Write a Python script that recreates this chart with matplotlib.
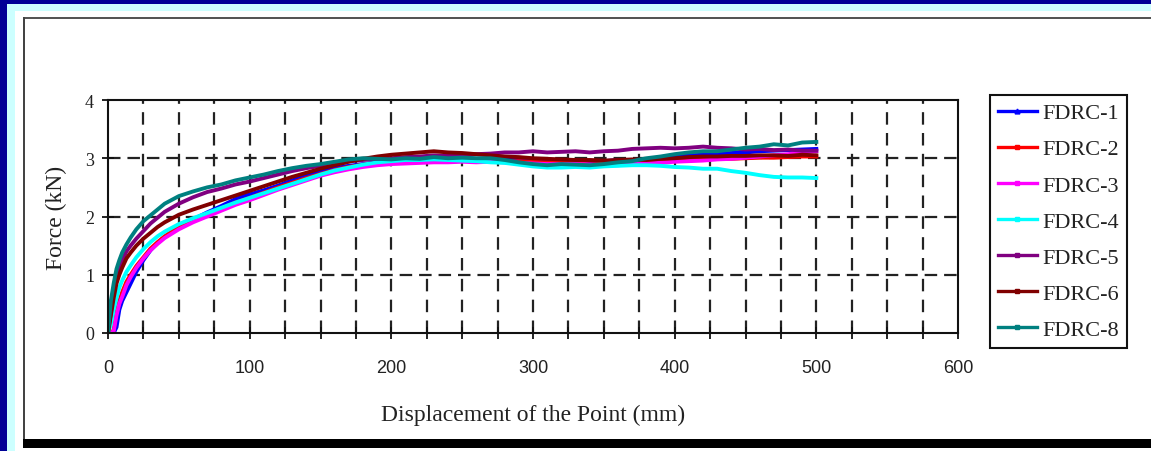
import numpy as np
import matplotlib
matplotlib.use("Agg")
import matplotlib.pyplot as plt
from matplotlib.patches import Rectangle
from matplotlib.lines import Line2D

# displacement (mm) shared by all specimens
disp = [0, 2, 4, 6, 8, 10, 13, 16, 20, 25, 30, 35, 40,
        50, 60, 70, 80, 90, 100, 110, 120, 130, 140, 150, 160, 170, 180, 190,
        200, 210, 220, 230, 240, 250, 260, 270, 280, 290, 300, 310, 320, 330,
        340, 350, 360, 370, 380, 390, 400, 410, 420, 430, 440, 450, 460, 470,
        480, 490, 500]

fdrc1 = [0, 0.0, 0.0, 0.1, 0.4, 0.55, 0.7, 0.85, 1.05, 1.25, 1.42, 1.55, 1.65,
         1.82, 1.95, 2.07, 2.18, 2.3, 2.38, 2.45, 2.53, 2.62, 2.7, 2.77, 2.83, 2.87, 2.9, 2.93,
         2.95, 2.97, 2.96, 2.99, 3.0, 3.01, 2.99, 3.0, 2.99, 2.98, 2.97, 2.98, 2.96, 2.97,
         2.95, 2.95, 2.97, 2.96, 2.98, 3.01, 3.02, 3.05, 3.06, 3.08, 3.09, 3.1, 3.12, 3.13,
         3.14, 3.15, 3.16]
fdrc2 = [0, 0.0, 0.05, 0.35, 0.55, 0.7, 0.88, 1.0, 1.15, 1.3, 1.45, 1.56, 1.66,
         1.82, 1.94, 2.04, 2.14, 2.24, 2.32, 2.41, 2.5, 2.58, 2.66, 2.73, 2.8, 2.85, 2.89, 2.92,
         2.94, 2.95, 2.96, 2.96, 2.97, 2.96, 2.95, 2.96, 2.94, 2.95, 2.94, 2.93, 2.94, 2.95,
         2.96, 2.95, 2.96, 2.95, 2.96, 2.97, 2.96, 2.97, 2.98, 2.99, 2.99, 3.0, 3.01, 3.01,
         3.02, 3.03, 3.03]
fdrc3 = [0, 0.0, 0.03, 0.3, 0.5, 0.62, 0.82, 0.96, 1.12, 1.28, 1.42, 1.53, 1.63,
         1.78, 1.9, 2.0, 2.1, 2.2, 2.28, 2.37, 2.46, 2.54, 2.62, 2.7, 2.76, 2.81, 2.85, 2.88,
         2.9, 2.91, 2.92, 2.93, 2.93, 2.94, 2.93, 2.94, 2.93, 2.92, 2.91, 2.9, 2.9, 2.9,
         2.89, 2.88, 2.88, 2.9, 2.91, 2.92, 2.94, 2.95, 2.96, 2.98, 2.99, 3.01, 3.03, 3.05,
         3.07, 3.1, 3.12]
fdrc4 = [0, 0.15, 0.4, 0.6, 0.78, 0.9, 1.05, 1.16, 1.3, 1.44, 1.56, 1.66, 1.74,
         1.87, 1.97, 2.06, 2.15, 2.24, 2.32, 2.4, 2.48, 2.56, 2.64, 2.72, 2.79, 2.84, 2.89, 2.93,
         2.95, 2.97, 2.97, 2.98, 2.97, 2.96, 2.95, 2.93, 2.92, 2.89, 2.86, 2.84, 2.84, 2.85,
         2.84, 2.86, 2.87, 2.88, 2.88, 2.87, 2.85, 2.84, 2.82, 2.82, 2.78, 2.75, 2.71, 2.68,
         2.67, 2.67, 2.66]
fdrc5 = [0, 0.35, 0.7, 0.95, 1.1, 1.25, 1.4, 1.5, 1.62, 1.75, 1.88, 1.98, 2.08,
         2.22, 2.33, 2.42, 2.48, 2.55, 2.6, 2.66, 2.72, 2.78, 2.83, 2.87, 2.91, 2.95, 2.97, 2.99,
         3.0, 3.02, 3.03, 3.05, 3.04, 3.06, 3.07, 3.08, 3.1, 3.1, 3.12, 3.1, 3.11, 3.12,
         3.1, 3.12, 3.13, 3.16, 3.17, 3.18, 3.17, 3.18, 3.2, 3.18, 3.17, 3.15, 3.16, 3.14,
         3.15, 3.13, 3.13]
fdrc6 = [0, 0.3, 0.6, 0.85, 1.0, 1.12, 1.28, 1.38, 1.5, 1.62, 1.72, 1.82, 1.9,
         2.03, 2.12, 2.2, 2.28, 2.36, 2.44, 2.52, 2.6, 2.68, 2.75, 2.82, 2.88, 2.94, 2.99, 3.03,
         3.06, 3.08, 3.1, 3.12, 3.1, 3.09, 3.07, 3.05, 3.03, 3.02, 3.0, 2.99, 2.98, 2.97,
         2.97, 2.96, 2.97, 2.98, 2.97, 2.99, 3.0, 3.02, 3.03, 3.03, 3.04, 3.04, 3.05, 3.05,
         3.04, 3.06, 3.05]
fdrc8 = [0, 0.55, 0.85, 1.1, 1.25, 1.38, 1.52, 1.64, 1.78, 1.92, 2.02, 2.12, 2.22,
         2.35, 2.43, 2.5, 2.55, 2.62, 2.67, 2.72, 2.78, 2.83, 2.87, 2.9, 2.94, 2.98, 3.0, 2.99,
         2.98, 3.0, 2.99, 3.02, 3.0, 3.01, 3.0, 3.0, 2.97, 2.93, 2.9, 2.88, 2.9, 2.89,
         2.88, 2.9, 2.93, 2.95, 3.0, 3.03, 3.07, 3.1, 3.12, 3.12, 3.15, 3.18, 3.2, 3.24,
         3.22, 3.27, 3.28]

labels = ['FDRC-1', 'FDRC-2', 'FDRC-3', 'FDRC-4', 'FDRC-5', 'FDRC-6', 'FDRC-8']
series = [fdrc1, fdrc2, fdrc3, fdrc4, fdrc5, fdrc6, fdrc8]
colors = ['#0000ff', '#ff0000', '#ff00ff', '#00ffff', '#800080', '#800000', '#008080']
markers = ['^', 's', 's', 's', 's', 's', 's']

W, H = 1151, 452
plt.rcParams['lines.scale_dashes'] = False
fig = plt.figure(figsize=(W / 100, H / 100), dpi=100)
fig.patch.set_facecolor('white')


def px_rect(x0, y0, x1, y1, color):
	# rectangle given in pixel coords (top-left origin)
	fig.patches.append(Rectangle((x0 / W, 1 - y1 / H), (x1 - x0) / W, (y1 - y0) / H,
	                             transform=fig.transFigure, facecolor=color,
	                             edgecolor='none', zorder=-10))

# slide frame
px_rect(0, 0, W, 5, '#000096')
px_rect(0, 5, W, 12, '#ccffff')
px_rect(0, 0, 7.5, H, '#000096')
px_rect(7.5, 5, 15, H, '#ccffff')
px_rect(23, 17.5, W, 19.5, '#555555')
px_rect(23, 17.5, 25, 449, '#444444')
px_rect(23, 440, W, 449, '#000000')

ax = fig.add_axes([108 / W, 1 - 334 / H, 850 / W, 233 / H])
for s, c, lab in zip(series, colors, labels):
	ax.plot(disp, s, color=c, lw=2.8, label=lab, solid_joinstyle='miter')

ax.set_xlim(0, 600)
ax.set_ylim(0, 4)
ax.set_xticks([0, 100, 200, 300, 400, 500, 600])
ax.set_xticks([25, 50, 75, 125, 150, 175, 225, 250, 275, 325, 350, 375,
               425, 450, 475, 525, 550, 575], minor=True)
ax.set_yticks([0, 1, 2, 3, 4])

for x in range(25, 600, 25):
	ax.axvline(x, color='#222222', lw=1.6, dashes=(9, 6), zorder=0)
for y in [1, 2, 3]:
	ax.axhline(y, color='#222222', lw=1.6, dashes=(9, 5), zorder=0)

for sp in ax.spines.values():
	sp.set_linewidth(1.5)
	sp.set_color('#111111')

ax.tick_params(axis='both', which='both', direction='inout', length=8, width=1.3, color='#111111')
ax.tick_params(axis='x', pad=15, labelsize=13, labelfontfamily='Liberation Sans', labelcolor='#222222')
ax.tick_params(axis='y', pad=6, labelsize=13, labelfontfamily='Liberation Serif', labelcolor='#222222')

ax.set_xlabel('Displacement of the Point (mm)', fontsize=17, family='Liberation Serif',
              color='#222222', labelpad=20)
ax.set_ylabel('Force (kN)', fontsize=17, family='Liberation Serif', color='#222222', labelpad=13)

handles = [Line2D([], [], color=c, lw=2.4, marker=m, markersize=3.5) for c, m in zip(colors, markers)]
leg = fig.legend(handles, labels, loc='upper left', bbox_to_anchor=(990 / W, 1 - 96 / H),
                 bbox_transform=fig.transFigure, borderaxespad=0, fancybox=False,
                 framealpha=1, edgecolor='#111111', handlelength=1.75, handletextpad=0.25,
                 labelspacing=0.7, borderpad=0.35,
                 prop={'family': 'Liberation Serif', 'size': 16})
leg.get_frame().set_linewidth(1.5)
for t in leg.get_texts():
	t.set_color('#222222')

fig.savefig('out.png', dpi=100)
